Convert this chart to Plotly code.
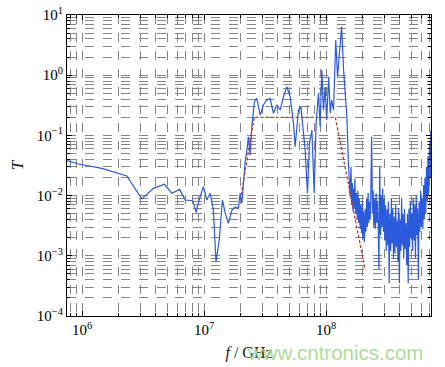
import plotly.graph_objects as go
import math

# ---- data ----
# measured transmission, lower band (frequency in Hz)
main_f_hz = [7.5e5, 9.3e5, 1.45e6, 2.32e6, 3.08e6, 3.84e6, 4.73e6, 5.43e6, 6.28e6, 6.99e6,
             8.07e6, 8.59e6, 9.09e6, 9.86e6, 1.05e7, 1.12e7, 1.19e7, 1.25e7, 1.33e7, 1.41e7,
             1.49e7, 1.58e7, 1.69e7, 1.80e7, 1.91e7, 1.97e7, 2.04e7, 2.10e7, 2.17e7, 2.24e7,
             2.31e7, 2.38e7, 2.46e7, 2.58e7, 2.70e7, 2.88e7, 3.06e7, 3.27e7, 3.47e7, 3.70e7,
             3.94e7, 4.20e7, 4.47e7, 4.76e7, 5.07e7, 5.23e7, 5.40e7, 5.57e7, 5.75e7, 5.93e7,
             6.21e7, 6.45e7, 6.73e7, 7.03e7, 7.30e7, 7.64e7, 7.98e7, 8.28e7, 8.65e7, 8.93e7,
             9.22e7, 9.51e7, 9.82e7, 1.01e8, 1.05e8, 1.08e8, 1.11e8, 1.15e8, 1.20e8, 1.24e8,
             1.28e8, 1.32e8, 1.34e8, 1.39e8, 1.43e8, 1.48e8, 1.52e8, 1.57e8]
main_T = [0.038, 0.0335, 0.0284, 0.0212, 0.0088, 0.0132, 0.0154, 0.0109, 0.0127, 0.00845,
          0.00823, 0.00528, 0.00845, 0.0141, 0.00845, 0.0109, 0.00577, 0.000798, 0.00183, 0.00845,
          0.00508, 0.00347, 0.00577, 0.00655, 0.00615, 0.0109, 0.00745, 0.0182, 0.0366, 0.0572,
          0.095, 0.0472, 0.140, 0.363, 0.413, 0.218, 0.320, 0.387, 0.413, 0.233,
          0.320, 0.264, 0.440, 0.644, 0.440, 0.264, 0.159, 0.0649, 0.140, 0.264,
          0.300, 0.123, 0.0572, 0.011, 0.074, 0.123, 0.011, 0.159, 0.5, 0.140,
          1.22, 0.264, 0.644, 0.180, 0.944, 0.233, 0.387, 0.264, 3.84, 0.944,
          2.31, 4.36, 6.4, 1.22, 0.440, 0.205, 0.039, 0.0096]

# measured transmission, upper noisy band (frequency in MHz)
noise_f_mhz = [160, 162, 164, 166, 168, 170, 172, 175, 177, 180,
               182, 185, 187, 190, 192, 195, 198, 200, 203, 206,
               209, 212, 215, 218, 221, 224, 227, 230, 233, 236,
               240, 243, 246, 250, 253, 257, 260, 264, 268, 271,
               275, 279, 283, 287, 291, 295, 299, 303, 307, 311,
               316, 320, 324, 329, 333, 338, 343, 347, 352, 357,
               362, 367, 372, 377, 383, 388, 393, 399, 404, 410,
               416, 421, 427, 433, 439, 445, 451, 458, 464, 471,
               477, 484, 491, 497, 504, 511, 518, 526, 533, 540,
               548, 556, 563, 571, 579, 587, 596, 604, 612, 621,
               630, 638, 647, 656, 666, 675, 684, 694, 704, 714,
               720]
noise_T = [0.03, 0.007, 0.016, 0.0055, 0.013, 0.006, 0.019, 0.005, 0.011, 0.004,
           0.012, 0.0035, 0.009, 0.0028, 0.007, 0.0024, 0.008, 0.0019, 0.0055, 0.0017,
           0.006, 0.0025, 0.009, 0.003, 0.011, 0.0035, 0.008, 0.004, 0.014, 0.095,
           0.005, 0.012, 0.003, 0.009, 0.0028, 0.011, 0.0035, 0.008, 0.0025, 0.0006,
           0.03, 0.0022, 0.01, 0.003, 0.013, 0.0025, 0.009, 0.0018, 0.007, 0.0012,
           0.006, 0.0015, 0.008, 0.00035, 0.005, 0.0012, 0.009, 0.0016, 0.006, 0.0009,
           0.0045, 0.0011, 0.007, 0.0014, 0.0038, 0.0008, 0.006, 0.00035, 0.004, 0.0012,
           0.009, 0.0015, 0.005, 0.0009, 0.006, 0.0013, 0.0035, 0.0007, 0.005, 0.00035,
           0.006, 0.0014, 0.008, 0.002, 0.005, 0.0012, 0.009, 0.0018, 0.007, 0.0009,
           0.01, 0.0022, 0.006, 0.0004, 0.008, 0.0025, 0.012, 0.003, 0.009, 0.0028,
           0.015, 0.004, 0.02, 0.005, 0.03, 0.008, 0.045, 0.01, 0.07, 0.02,
           0.12]

# ideal (design) passband envelope
ideal_f_hz = [2.01e7, 2.57e7, 1.19e8, 2.09e8]
ideal_T = [0.0103, 0.2, 0.2, 0.00058]

x_tick_vals = [1e6, 1e7, 1e8]
x_tick_text = ["10<sup>6</sup>", "10<sup>7</sup>", "10<sup>8</sup>"]
y_tick_vals = [1e-4, 1e-3, 1e-2, 1e-1, 1e0, 1e1]
y_tick_text = ["10<sup>\u22124</sup>", "10<sup>\u22123</sup>", "10<sup>\u22122</sup>",
               "10<sup>\u22121</sup>", "10<sup>0</sup>", "10<sup>1</sup>"]

blue_f = main_f_hz + [v * 1e6 for v in noise_f_mhz]
blue_T = main_T + noise_T

x_minor = [k * 10 ** n for n in range(5, 9) for k in range(2, 10)]
y_minor = [k * 10.0 ** n for n in range(-4, 1) for k in range(2, 10)]

fig = go.Figure()
fig.add_trace(go.Scatter(x=blue_f, y=blue_T, mode="lines",
                         line=dict(color="#2b5bdc", width=1.2), showlegend=False))
fig.add_trace(go.Scatter(x=ideal_f_hz, y=ideal_T, mode="lines",
                         line=dict(color="#c0392b", width=1.3, dash="3px,2px"), showlegend=False))

serif = "Liberation Serif, Times New Roman, serif"
grid = dict(showgrid=True, gridcolor="#858585", gridwidth=0.7, griddash="dash")
minor_grid = dict(ticks="inside", ticklen=3, tickcolor="black",
                  showgrid=True, gridcolor="#858585", gridwidth=0.7, griddash="dash")

fig.update_xaxes(type="log", range=[math.log10(7.5e5), 8.86], automargin=False,
                 tickvals=x_tick_vals, ticktext=x_tick_text,
                 ticks="inside", ticklen=5, tickcolor="black",
                 showline=True, linecolor="black", linewidth=1, mirror="allticks",
                 zeroline=False,
                 tickfont=dict(family=serif, size=15, color="black"),
                 title=dict(text="<i>f</i> / GHz", font=dict(family=serif, size=16, color="#222"),
                            standoff=9),
                 minor=dict(tickvals=x_minor, **minor_grid),
                 **grid)
fig.update_yaxes(type="log", range=[-4, 1], automargin=False,
                 tickvals=y_tick_vals, ticktext=y_tick_text,
                 ticks="inside", ticklen=5, tickcolor="black",
                 showline=True, linecolor="black", linewidth=1, mirror="allticks",
                 zeroline=False,
                 tickfont=dict(family=serif, size=15, color="black"),
                 title=dict(text="<i>T</i>", font=dict(family=serif, size=17, color="#222"),
                            standoff=8),
                 minor=dict(tickvals=y_minor, **minor_grid),
                 **grid)

fig.add_annotation(text="www.cntronics.com", xref="paper", yref="paper",
                   x=0.984, y=-0.12, xanchor="right", yanchor="middle", showarrow=False,
                   font=dict(family="Liberation Sans, Arial, sans-serif", size=20.5, color="#acdd98"))

fig.update_layout(width=445, height=367, margin=dict(l=67, r=14, t=15, b=51),
                  plot_bgcolor="white", paper_bgcolor="white")

# remove the browser's default 8px page margin so the figure sits at the top-left corner
fig.write_html("out.html", config={"displayModeBar": False},
               post_script="document.body.style.margin='0px';document.body.style.padding='0px';")
